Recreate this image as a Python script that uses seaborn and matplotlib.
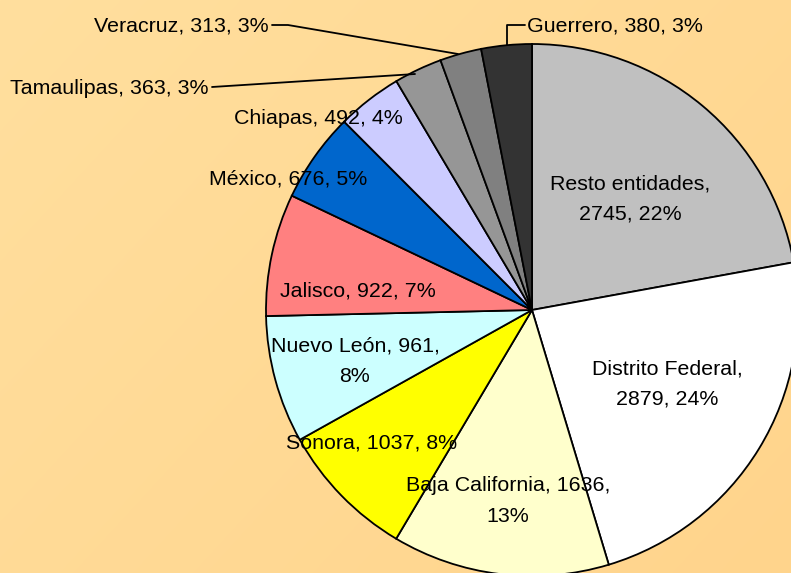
import numpy as np
import pandas as pd
import seaborn as sns
import matplotlib
matplotlib.use("Agg")
import matplotlib.pyplot as plt

# ---- data ----
states = ["Resto entidades", "Distrito Federal", "Baja California", "Sonora",
          "Nuevo León", "Jalisco", "México", "Chiapas", "Tamaulipas",
          "Veracruz", "Guerrero"]
values = [2745, 2879, 1636, 1037, 961, 922, 676, 492, 363, 313, 380]
pcts = [22, 24, 13, 8, 8, 7, 5, 4, 3, 3, 3]
colors = ["#C0C0C0", "#FFFFFF", "#FFFFCC", "#FFFF00", "#CCFFFF", "#FF8080",
          "#0066CC", "#CCCCFF", "#969696", "#808080", "#333333"]

df = pd.DataFrame({"state": states, "value": values, "pct": pcts, "color": colors})

# ---- layout (pixel coords, top-left origin) ----
W, H = 791, 573
CX, CY, R = 532, 310, 266
# label text break style: 0 = one line, 1 = break after name, 2 = break before pct
breaks = [1, 1, 2, 0, 2, 0, 0, 0, 0, 0, 0]
label_pos = [(630, 199, "center"), (667, 384, "center"), (508, 501, "center"),
             (372, 443, "center"), (355, 361, "center"), (358, 291, "center"),
             (288, 179, "center"), (318, 119, "center"), (208, 88, "right"),
             (269, 26, "right"), (527, 26, "left")]
leaders = {8: [(212, 87), (415, 74)],
           9: [(272, 25), (288, 25), (458, 54)],
           10: [(507, 45), (507, 25), (525, 25)]}

sns.set_theme(style="white")
plt.rcParams["font.family"] = ["Liberation Sans", "DejaVu Sans"]

fig = plt.figure(figsize=(W / 100, H / 100), dpi=100)
ax = fig.add_axes([0, 0, 1, 1])

# background gradient
yy, xx = np.mgrid[0:H, 0:W]
t = (xx / W * 0.6 + yy / H * 0.4)
c0 = np.array([255, 223, 158]) / 255
c1 = np.array([255, 212, 140]) / 255
grad = c0[None, None, :] * (1 - t[..., None]) + c1[None, None, :] * t[..., None]
ax.imshow(grad, extent=[0, W, 0, H], origin="upper", zorder=0, aspect="auto")

wedges, _ = ax.pie(df["value"], colors=df["color"], startangle=90,
                   counterclock=False, center=(CX, H - CY), radius=R,
                   wedgeprops=dict(edgecolor="black", linewidth=1.3),
                   frame=True)
for w in wedges:
    w.set_zorder(2)

for i, row in df.iterrows():
    name, v, p = row["state"], row["value"], row["pct"]
    if breaks[i] == 1:
        txt = f"{name},\n{v}, {p}%"
    elif breaks[i] == 2:
        txt = f"{name}, {v},\n{p}%"
    else:
        txt = f"{name}, {v}, {p}%"
    x, y, ha = label_pos[i]
    ax.text(x, H - y, txt, ha=ha, va="center", fontsize=15.4, color="black",
            linespacing=1.75, zorder=5)

for i, pts in leaders.items():
    xs = [p[0] for p in pts]
    ys = [H - p[1] for p in pts]
    ax.plot(xs, ys, color="black", linewidth=1.3, zorder=4)

ax.set_xlim(0, W)
ax.set_ylim(0, H)
ax.set_aspect("auto")
ax.axis("off")

fig.savefig("out.png", dpi=100)
